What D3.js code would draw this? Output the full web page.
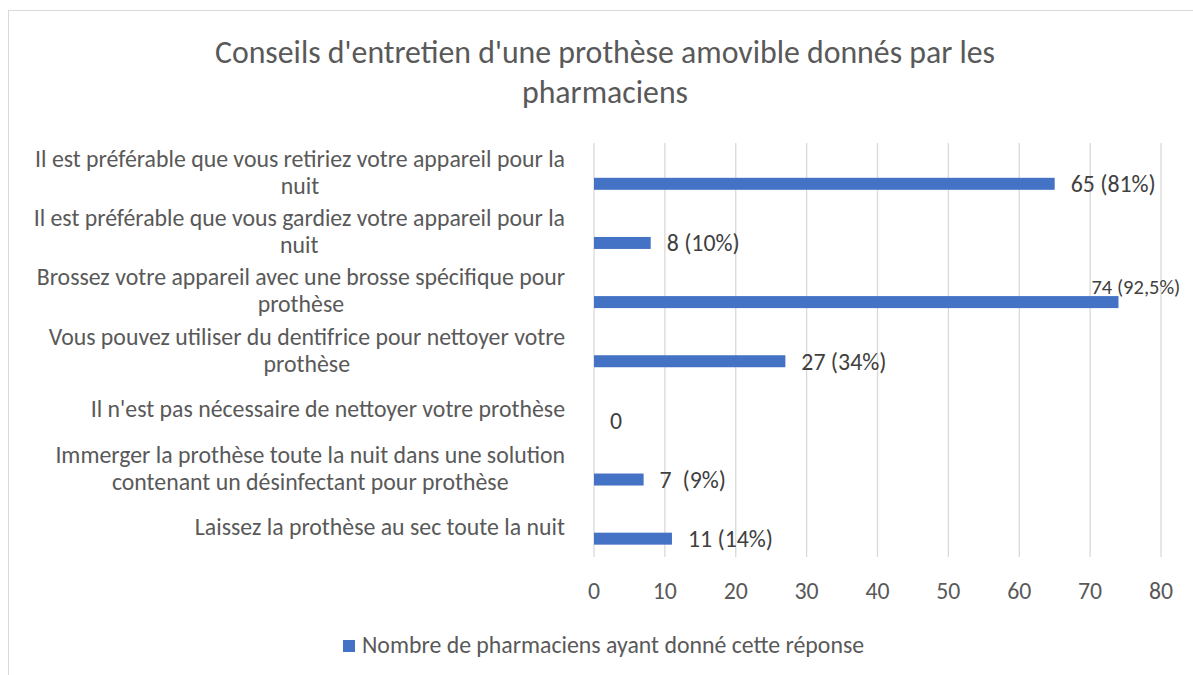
<!DOCTYPE html>
<meta charset="utf-8">
<style>
    body { margin: 0; background: #fff; }
    svg { font-family: Carlito, Calibri, Lato, sans-serif; }
    .grid line { stroke: #d9d9d9; stroke-width: 1.3; }
    .cat, .tick-label, .legend text, .title { fill: #595959; }
    .value { fill: #404040; white-space: pre; }
</style>

<svg width="1193" height="675"></svg>

<script src="https://d3js.org/d3.v7.min.js"></script>

<script>
// data
var categories = [
    ["Il est préférable que vous retiriez votre appareil pour la", "nuit"],
    ["Il est préférable que vous gardiez votre appareil pour la", "nuit"],
    ["Brossez votre appareil avec une brosse spécifique pour", "prothèse"],
    ["Vous pouvez utiliser du dentifrice pour nettoyer votre", "prothèse"],
    ["Il n'est pas nécessaire de nettoyer votre prothèse"],
    ["Immerger la prothèse toute la nuit dans une solution", "contenant un désinfectant pour prothèse"],
    ["Laissez la prothèse au sec toute la nuit"]
];
var values = [65, 8, 74, 27, 0, 7, 11];
var valueLabels = ["65 (81%)", "8 (10%)", "74 (92,5%)", "27 (34%)", "0", "7  (9%)", "11 (14%)"];
var xTicks = [0, 10, 20, 30, 40, 50, 60, 70, 80];
var seriesName = "Nombre de pharmaciens ayant donné cette réponse";
var titleLines = ["Conseils d'entretien d'une prothèse amovible donnés par les", "pharmaciens"];

var svg = d3.select("svg");
var blue = "#4472c4";
var fs = 23.8;

// chart frame
svg.append("rect")
    .attr("x", 8.5).attr("y", 10.5)
    .attr("width", 1200).attr("height", 700)
    .attr("fill", "none")
    .attr("stroke", "#d9d9d9");

var x = d3.scaleLinear().domain([0, 80]).range([594, 1161]);
var y = d3.scaleBand().domain(d3.range(categories.length)).range([143, 557]);
var bw = y.bandwidth();

// title
svg.append("text")
    .attr("class", "title")
    .attr("text-anchor", "middle")
    .attr("font-size", 31.8)
    .selectAll("tspan")
    .data(titleLines)
    .enter()
    .append("tspan")
    .attr("x", 605)
    .attr("y", function(_, i) { return 63 + i * 40; })
    .text(function(d) { return d; });

// vertical gridlines
svg.append("g")
    .attr("class", "grid")
    .selectAll("line")
    .data(xTicks)
    .enter()
    .append("line")
    .attr("x1", function(d) { return x(d); })
    .attr("x2", function(d) { return x(d); })
    .attr("y1", y.range()[0])
    .attr("y2", y.range()[1]);

// tick labels
svg.append("g")
    .selectAll("text")
    .data(xTicks)
    .enter()
    .append("text")
    .attr("class", "tick-label")
    .attr("x", function(d) { return x(d); })
    .attr("y", 599)
    .attr("text-anchor", "middle")
    .attr("font-size", fs)
    .text(function(d) { return d; });

// bars (sit a bit below the band center, as in the original)
svg.append("g")
    .selectAll("rect")
    .data(values)
    .enter()
    .append("rect")
    .attr("x", x(0))
    .attr("y", function(d, i) { return y(i) + bw * 0.69 - 6; })
    .attr("width", function(d) { return x(d) - x(0); })
    .attr("height", 12)
    .attr("fill", blue);

// value labels
svg.append("g")
    .selectAll("text")
    .data(values)
    .enter()
    .append("text")
    .attr("class", "value")
    .attr("font-size", function(d, i) { return i === 2 ? 20.5 : fs; })
    .attr("x", function(d, i) { return i === 2 ? x(d) - 27 : x(d) + 16; })
    .attr("y", function(d, i) { return i === 2 ? y(i) + bw * 0.69 - 8 : y(i) + bw * 0.69 + 8.5; })
    .text(function(d, i) { return valueLabels[i]; });

// category labels: centred lines, block right-aligned to 565
var catG = svg.append("g");
categories.forEach(function(lines, i) {
    var t = catG.append("text")
        .attr("class", "cat")
        .attr("font-size", fs)
        .attr("text-anchor", "middle");
    var spans = t.selectAll("tspan")
        .data(lines)
        .enter()
        .append("tspan")
        .attr("y", function(_, j) {
            return y(i) + bw / 2 + 8 + (j - (lines.length - 1) / 2) * 27;
        })
        .text(function(d) { return d; });
    var w = d3.max(spans.nodes(), function(n) { return n.getComputedTextLength(); });
    spans.attr("x", 565 - w / 2);
});

// legend
var leg = svg.append("g").attr("class", "legend");
leg.append("rect")
    .attr("x", 343).attr("y", 640)
    .attr("width", 12).attr("height", 12)
    .attr("fill", blue);
leg.append("text")
    .attr("x", 362).attr("y", 653)
    .attr("font-size", fs)
    .text(seriesName);
</script>
